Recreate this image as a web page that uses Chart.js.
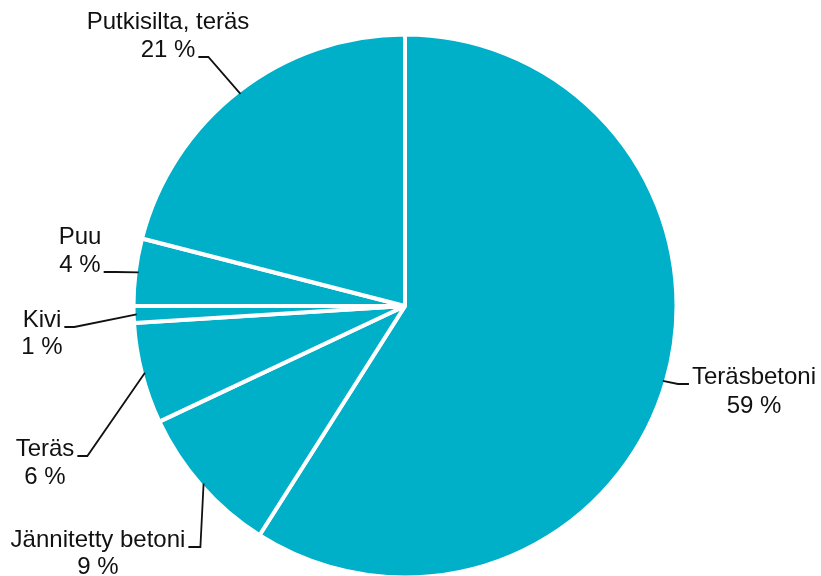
<!DOCTYPE html>
<html>
<head>
<meta charset="utf-8">
<script src="https://cdn.jsdelivr.net/npm/chart.js@4"></script>
<style>
  html, body { margin: 0; padding: 0; background: #ffffff; }
  #wrap { width: 821px; height: 576px; position: relative; }
</style>
</head>
<body>
<div id="wrap"><canvas id="c" width="821" height="576"></canvas></div>
<script>
// Sillat rakennusmateriaalin mukaan (%)
const categories = ['Teräsbetoni', 'Jännitetty betoni', 'Teräs', 'Kivi', 'Puu', 'Putkisilta, teräs'];
const shares = [59, 9, 6, 1, 4, 21];

// Label placement: text centre x, baselines of the two lines,
// which line the leader attaches to, side it leaves from and knee length
const labelLayout = [
  { cx: 754, y1: 384, y2: 413, attach: 1, side: 'left',  knee: 11 },
  { cx: 98,  y1: 547, y2: 574, attach: 1, side: 'right', knee: 12 },
  { cx: 45,  y1: 456, y2: 484, attach: 1, side: 'right', knee: 10 },
  { cx: 42,  y1: 327, y2: 354, attach: 1, side: 'right', knee: 10 },
  { cx: 80,  y1: 244, y2: 272, attach: 2, side: 'right', knee: 12 },
  { cx: 168, y1: 29,  y2: 57,  attach: 2, side: 'right', knee: 10 }
];

const FONT = '24px "Liberation Sans", Arial, sans-serif';

const outsideLabels = {
  id: 'outsideLabels',
  afterDatasetsDraw(chart) {
    const ctx = chart.ctx;
    const meta = chart.getDatasetMeta(0);
    ctx.save();
    ctx.font = FONT;
    ctx.fillStyle = '#111111';
    ctx.strokeStyle = '#111111';
    ctx.lineWidth = 1.8;
    ctx.textAlign = 'center';
    ctx.textBaseline = 'alphabetic';
    meta.data.forEach((arc, i) => {
      const lay = labelLayout[i];
      const line1 = categories[i];
      const line2 = shares[i] + ' %';
      ctx.fillText(line1, lay.cx, lay.y1);
      ctx.fillText(line2, lay.cx, lay.y2);

      const txt = lay.attach === 1 ? line1 : line2;
      const ly = lay.attach === 1 ? lay.y1 : lay.y2;
      const w = ctx.measureText(txt).width;
      const sx = lay.side === 'right' ? lay.cx + w / 2 + 3 : lay.cx - w / 2 - 3;
      const kx = lay.side === 'right' ? sx + lay.knee : sx - lay.knee;

      const p = arc.getProps(['x', 'y', 'startAngle', 'endAngle', 'outerRadius'], true);
      const mid = (p.startAngle + p.endAngle) / 2;
      const r = p.outerRadius - 3;
      const ax = p.x + Math.cos(mid) * r;
      const ay = p.y + Math.sin(mid) * r;

      ctx.beginPath();
      ctx.moveTo(sx, ly);
      ctx.lineTo(kx, ly);
      ctx.lineTo(ax, ay);
      ctx.stroke();
    });
    ctx.restore();
  }
};

new Chart(document.getElementById('c'), {
  type: 'pie',
  data: {
    labels: categories,
    datasets: [{
      data: shares,
      backgroundColor: '#00afc8',
      borderColor: '#ffffff',
      borderWidth: 4,
      radius: 271.5
    }]
  },
  options: {
    responsive: false,
    animation: false,
    events: [],
    layout: { padding: { top: 36, bottom: 0, left: 0, right: 11 } },
    plugins: {
      legend: { display: false },
      tooltip: { enabled: false }
    }
  },
  plugins: [outsideLabels]
});
</script>
</body>
</html>
